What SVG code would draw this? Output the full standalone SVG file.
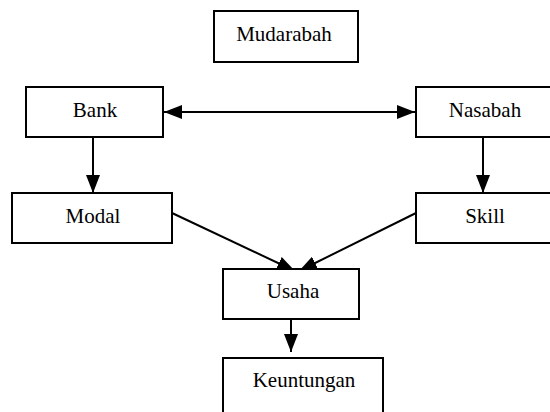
<svg xmlns="http://www.w3.org/2000/svg" width="550" height="412" viewBox="0 0 550 412">
  <style>
    .box { fill: #ffffff; stroke: #000000; stroke-width: 2; }
    .lbl { font-family: "Liberation Serif", "Times New Roman", serif; font-size: 21px; fill: #000000; text-anchor: middle; }
    .edge { stroke: #000000; stroke-width: 2; fill: none; }
  </style>
  <defs>
    <marker id="arrow" viewBox="0 0 18 14" refX="18" refY="7" markerWidth="18" markerHeight="14" markerUnits="userSpaceOnUse" orient="auto-start-reverse">
      <path d="M0,0 L18,7 L0,14 z" fill="#000000"/>
    </marker>
  </defs>
  <rect width="550" height="412" fill="#ffffff"/>

  <g id="connectors">
    <line class="edge" x1="164" y1="112" x2="415" y2="112" marker-start="url(#arrow)" marker-end="url(#arrow)"/>
    <line class="edge" x1="93" y1="137" x2="93" y2="193" marker-end="url(#arrow)"/>
    <line class="edge" x1="483" y1="137" x2="483" y2="193" marker-end="url(#arrow)"/>
    <line class="edge" x1="172" y1="213" x2="295" y2="271" marker-end="url(#arrow)"/>
    <line class="edge" x1="416" y1="213" x2="299" y2="271" marker-end="url(#arrow)"/>
    <line class="edge" x1="291" y1="319" x2="291" y2="352" marker-end="url(#arrow)"/>
  </g>

  <g id="mudarabah">
    <rect class="box" x="214" y="11" width="144" height="51"/>
    <text class="lbl" x="284" y="41">Mudarabah</text>
  </g>
  <g id="bank">
    <rect class="box" x="26" y="87" width="137" height="50"/>
    <text class="lbl" x="95" y="117">Bank</text>
  </g>
  <g id="nasabah">
    <rect class="box" x="416" y="87" width="140" height="50"/>
    <text class="lbl" x="485" y="117">Nasabah</text>
  </g>
  <g id="modal">
    <rect class="box" x="12" y="193" width="160" height="50"/>
    <text class="lbl" x="93" y="223">Modal</text>
  </g>
  <g id="skill">
    <rect class="box" x="416" y="193" width="140" height="50"/>
    <text class="lbl" x="485" y="223">Skill</text>
  </g>
  <g id="usaha">
    <rect class="box" x="223" y="269" width="136" height="50"/>
    <text class="lbl" x="293" y="298">Usaha</text>
  </g>
  <g id="keuntungan">
    <rect class="box" x="223" y="358" width="160" height="70"/>
    <text class="lbl" x="304" y="387">Keuntungan</text>
  </g>
</svg>
